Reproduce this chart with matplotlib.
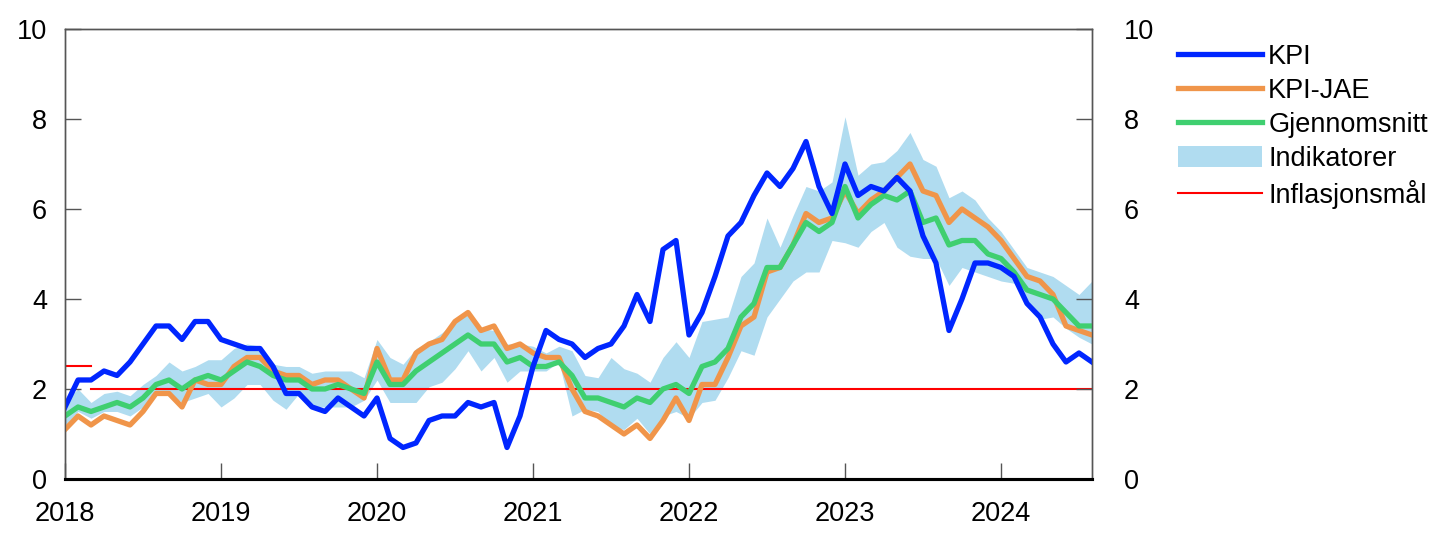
import matplotlib
matplotlib.use("Agg")
import matplotlib.pyplot as plt
from matplotlib.patches import Patch
from matplotlib.lines import Line2D
import numpy as np

plt.rcParams["font.family"] = ["Liberation Sans", "DejaVu Sans"]

# Månedlige data, jan 2018 - aug 2024 (12-månedersvekst, prosent)
start_year = 2018
kpi = [1.6, 2.2, 2.2, 2.4, 2.3, 2.6, 3.0, 3.4, 3.4, 3.1, 3.5, 3.5,
       3.1, 3.0, 2.9, 2.9, 2.5, 1.9, 1.9, 1.6, 1.5, 1.8, 1.6, 1.4,
       1.8, 0.9, 0.7, 0.8, 1.3, 1.4, 1.4, 1.7, 1.6, 1.7, 0.7, 1.4,
       2.5, 3.3, 3.1, 3.0, 2.7, 2.9, 3.0, 3.4, 4.1, 3.5, 5.1, 5.3,
       3.2, 3.7, 4.5, 5.4, 5.7, 6.3, 6.8, 6.5, 6.9, 7.5, 6.5, 5.9,
       7.0, 6.3, 6.5, 6.4, 6.7, 6.4, 5.4, 4.8, 3.3, 4.0, 4.8, 4.8,
       4.7, 4.5, 3.9, 3.6, 3.0, 2.6, 2.8, 2.6]
kpi_jae = [1.1, 1.4, 1.2, 1.4, 1.3, 1.2, 1.5, 1.9, 1.9, 1.6, 2.2, 2.1,
           2.1, 2.5, 2.7, 2.7, 2.4, 2.3, 2.3, 2.1, 2.2, 2.2, 2.0, 1.8,
           2.9, 2.2, 2.2, 2.8, 3.0, 3.1, 3.5, 3.7, 3.3, 3.4, 2.9, 3.0,
           2.8, 2.7, 2.7, 2.0, 1.5, 1.4, 1.2, 1.0, 1.2, 0.9, 1.3, 1.8,
           1.3, 2.1, 2.1, 2.7, 3.4, 3.6, 4.6, 4.7, 5.2, 5.9, 5.7, 5.8,
           6.4, 5.9, 6.2, 6.4, 6.7, 7.0, 6.4, 6.3, 5.7, 6.0, 5.8, 5.6,
           5.3, 4.9, 4.5, 4.4, 4.1, 3.4, 3.3, 3.2]
gjennomsnitt = [1.4, 1.6, 1.5, 1.6, 1.7, 1.6, 1.8, 2.1, 2.2, 2.0, 2.2, 2.3,
                2.2, 2.4, 2.6, 2.5, 2.3, 2.2, 2.2, 2.0, 2.0, 2.1, 2.0, 1.9,
                2.6, 2.1, 2.1, 2.4, 2.6, 2.8, 3.0, 3.2, 3.0, 3.0, 2.6, 2.7,
                2.5, 2.5, 2.6, 2.3, 1.8, 1.8, 1.7, 1.6, 1.8, 1.7, 2.0, 2.1,
                1.9, 2.5, 2.6, 2.9, 3.6, 3.9, 4.7, 4.7, 5.2, 5.7, 5.5, 5.7,
                6.5, 5.8, 6.1, 6.3, 6.2, 6.4, 5.7, 5.8, 5.2, 5.3, 5.3, 5.0,
                4.9, 4.6, 4.2, 4.1, 4.0, 3.7, 3.4, 3.4]
ind_hoy = [1.75, 2.0, 1.7, 1.9, 1.95, 1.85, 2.1, 2.3, 2.6, 2.4, 2.5, 2.65,
           2.65, 2.9, 3.0, 2.95, 2.55, 2.5, 2.5, 2.35, 2.4, 2.4, 2.4, 2.25,
           3.1, 2.7, 2.55, 2.9, 3.05, 3.25, 3.5, 3.65, 3.35, 3.3, 3.0, 3.0,
           2.95, 2.8, 2.95, 2.85, 2.3, 2.25, 2.7, 2.45, 2.35, 2.15, 2.7, 3.05,
           2.7, 3.5, 3.55, 3.6, 4.5, 4.8, 5.8, 5.15, 5.85, 6.5, 6.4, 6.6,
           8.05, 6.75, 7.0, 7.05, 7.3, 7.7, 7.1, 6.95, 6.25, 6.4, 6.2, 5.8,
           5.5, 5.1, 4.7, 4.6, 4.5, 4.3, 4.1, 4.4]
ind_lav = [1.2, 1.5, 1.35, 1.5, 1.5, 1.4, 1.6, 1.9, 1.9, 1.7, 1.8, 1.9,
           1.6, 1.8, 2.1, 2.1, 1.75, 1.55, 1.9, 1.6, 1.6, 1.6, 1.6, 1.75,
           2.2, 1.7, 1.7, 1.7, 2.05, 2.15, 2.45, 2.85, 2.4, 2.7, 2.15, 2.4,
           2.4, 2.4, 2.6, 1.4, 1.55, 1.5, 1.15, 1.1, 1.35, 1.0, 1.4, 1.5,
           1.35, 1.7, 1.75, 2.25, 2.85, 2.75, 3.6, 4.0, 4.4, 4.6, 4.6, 5.3,
           5.25, 5.15, 5.5, 5.7, 5.15, 4.95, 4.9, 4.9, 4.3, 4.7, 4.6, 4.5,
           4.4, 4.35, 4.0, 3.55, 3.6, 3.35, 3.15, 3.0]
# inflasjonsmål: 2,5 fram til mars 2018, deretter 2
mal_gammel = [2.5, 2.5, 2.5]
mal_ny = 2.0

year_ticks = list(range(2018, 2025))

C_KPI = "#0026ff"
C_JAE = "#f0954a"
C_GJ = "#3fcf70"
C_IND = "#b0dcf0"
C_MAL = "#ff0000"
FS = 19.5

x = start_year + np.arange(len(kpi)) / 12.0
x_gammel = x[:len(mal_gammel)]
x_ny = x[len(mal_gammel) - 1:]

fig = plt.figure(figsize=(14.45, 5.43), dpi=100)
ax = fig.add_axes([0.045, 0.1179, 0.7107, 0.8287])

ax.fill_between(x, ind_lav, ind_hoy, color=C_IND, lw=0, zorder=1)
ax.plot(x_gammel, mal_gammel, color=C_MAL, lw=1.5, zorder=2)
ax.plot(x_ny, [mal_ny] * len(x_ny), color=C_MAL, lw=1.5, zorder=2)
ax.plot(x, kpi_jae, color=C_JAE, lw=3.8, zorder=3)
ax.plot(x, gjennomsnitt, color=C_GJ, lw=3.8, zorder=4)
ax.plot(x, kpi, color=C_KPI, lw=3.8, zorder=5)

ax.set_xlim(x[0], x[-1])
ax.set_ylim(0, 10)
ax.set_yticks(range(0, 11, 2))
ax.set_xticks(year_ticks)
ax.set_xticklabels([str(y) for y in year_ticks])

ax2 = ax.twinx()
ax2.set_ylim(0, 10)
ax2.set_yticks(range(0, 11, 2))

for a in (ax, ax2):
    for s in a.spines.values():
        s.set_color("#555555")
        s.set_linewidth(1.0)
    a.spines["bottom"].set_color("black")
    a.spines["bottom"].set_linewidth(2.2)

ax.tick_params(axis="y", direction="in", length=11.5, width=1.0,
               color="#555555", labelsize=FS, pad=13)
ax.tick_params(axis="x", direction="in", length=11.5, width=1.0,
               color="#555555", labelsize=FS, pad=16)
ax2.tick_params(axis="y", direction="in", length=11.5, width=1.0,
                color="#555555", labelsize=FS, pad=23)

handles = [
    Line2D([], [], color=C_KPI, lw=3.8),
    Line2D([], [], color=C_JAE, lw=3.8),
    Line2D([], [], color=C_GJ, lw=3.8),
    Patch(facecolor=C_IND, edgecolor="none"),
    Line2D([], [], color=C_MAL, lw=1.5),
]
labels = ["KPI", "KPI-JAE", "Gjennomsnitt", "Indikatorer", "Inflasjonsmål"]
ax2.legend(handles, labels, loc="upper left", bbox_to_anchor=(1.084, 0.967),
           frameon=False, fontsize=FS, handlelength=3.1, handleheight=0.8,
           handletextpad=0.22, labelspacing=0.3, borderaxespad=0,
           borderpad=0)

fig.savefig("out.png", dpi=100)
